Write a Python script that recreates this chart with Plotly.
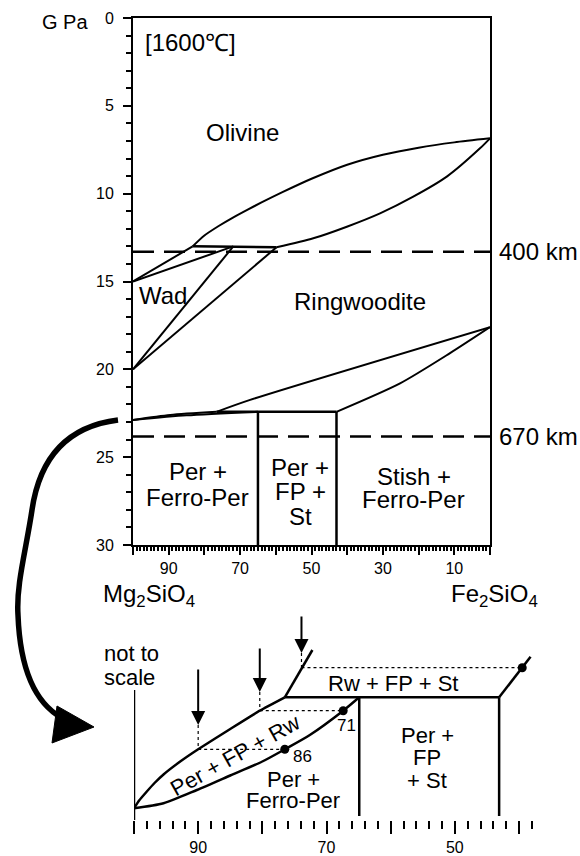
import plotly.graph_objects as go

FONT = "Liberation Sans, Arial, Helvetica, sans-serif"
W, H = 580, 856

# ---------------- main diagram (x: mol% Mg2SiO4, y: pressure in GPa) ----------------
ol_up_x = [83.3, 80, 76, 72, 68, 64, 58, 50, 40, 30, 20, 10, 0]
ol_up_y = [13.0, 12.38, 11.84, 11.36, 10.92, 10.5, 9.9, 9.15, 8.35, 7.78, 7.38, 7.08, 6.85]
ol_low_x = [59.8, 49.5, 40.1, 30.8, 21.5, 12.1, 2.8, 0]
ol_low_y = [13.05, 12.54, 11.88, 11.12, 10.17, 9.03, 7.42, 6.85]
triple_x = [83.3, 59.8]
triple_y = [13.0, 13.05]
wad_lines = [
    ([100, 83.3], [15.0, 13.0]),
    ([100, 71.9], [15.0, 13.0]),
    ([71.9, 100], [13.0, 20.0]),
    ([59.8, 100], [13.05, 20.0]),
]
lensA_x = [100, 89.6, 76.6]
lensA_y = [22.88, 22.6, 22.42]
lensB_x = [100, 85, 65]
lensB_y = [22.88, 22.62, 22.42]
boxtop_x = [76.6, 43]
boxtop_y = [22.42, 22.42]
rw_low_x = [76.6, 67.2, 0]
rw_low_y = [22.42, 21.74, 17.6]
st_x = [43, 25.2, 11.2, 0]
st_y = [22.42, 20.8, 19.08, 17.6]
verticals = [([65, 65], [22.42, 30]), ([43, 43], [22.42, 30])]
depth_p = [13.3, 23.83]
depth_labels = ["400 km", "670 km"]

x_major = [100, 90, 80, 70, 60, 50, 40, 30, 20, 10, 0]
x_major_text = ["", "90", "", "70", "", "50", "", "30", "", "10", ""]
x_minor = [v for v in range(0, 101) if v % 10]
y_major = [0, 5, 10, 15, 20, 25, 30]
y_minor = [v for v in range(0, 31) if v % 5]

main_labels = [
    ("Olivine", 69.2, 6.52),
    ("Wad", 91.7, 15.82),
    ("Ringwoodite", 36.4, 16.16),
    ("Per +", 81.8, 25.84), ("Ferro-Per", 81.8, 27.32),
    ("Per +", 53.2, 25.61), ("FP +", 53.2, 26.98), ("St", 53.2, 28.4),
    ("Stish +", 21.4, 26.12), ("Ferro-Per", 21.4, 27.43),
]

# ---------------- inset (not to scale; y = relative height) ----------------
in_left_x = [100, 100]
in_left_y = [0, 130]
in_low_x = [100, 95.4, 90.2, 85.0, 80.0, 76.5, 72.6, 67.4, 64.9]
in_low_y = [11.7, 16.7, 30, 44.5, 58.5, 70.7, 85, 109.3, 122.7]
in_up_x = [100, 99.2, 98, 96.8, 95.4, 92.8, 90, 85, 80.4, 76.5]
in_up_y = [11.7, 19.5, 28.5, 37, 45.5, 58.4, 70.7, 91, 109.3, 122.7]
in_solid = [
    ([76.5, 43.1], [122.7, 122.7]),
    ([76.5, 72.2], [122.7, 170]),
    ([43.1, 38.2], [122.7, 163.3]),
    ([64.9, 64.9], [4, 122.7]),
    ([43.1, 43.1], [4, 122.7]),
]
in_dotted = [
    ([90, 90], [95, 70.7]), ([90, 76.5], [70.7, 70.7]),
    ([80.4, 80.4], [128, 109.3]), ([80.4, 67.4], [109.3, 109.3]),
    ([73.9, 73.9], [167, 152.3]), ([73.9, 39.5], [152.3, 152.3]),
]
dots_x = [76.5, 67.4, 39.5]
dots_y = [70.7, 109.3, 152.3]
dot_labels = [("86", 73.8, 64), ("71", 66.9, 95)]
arrow_x = [90, 80.4, 73.9]
arrow_tip_y = [95, 128, 167]
arrow_len = [57, 45, 38]
in_x_major = [100, 90, 80, 70, 60, 50, 40]
in_x_major_text = ["", "90", "", "70", "", "50", ""]
in_x_minor = [v for v in range(38, 100, 2) if v % 10]
inset_labels = [
    ("Rw + FP + St", 59.6, 136.7),
    ("Per +", 54.3, 84.5), ("FP", 54.3, 63), ("+ St", 54.3, 40),
    ("Per +", 75.2, 41), ("Ferro-Per", 75.2, 19.5),
]

fig = go.Figure()


def add_line(x, y, xa="x", ya="y", width=2, dash=None, shape="linear", smoothing=0.7):
    fig.add_trace(go.Scatter(
        x=x, y=y, mode="lines", xaxis=xa, yaxis=ya, hoverinfo="skip", showlegend=False,
        line=dict(color="black", width=width, dash=dash, shape=shape, smoothing=smoothing)))


add_line(ol_up_x, ol_up_y, shape="spline")
add_line(ol_low_x, ol_low_y, shape="spline")
add_line(triple_x, triple_y, width=2.5)
for lx, ly in wad_lines:
    add_line(lx, ly)
add_line(lensA_x, lensA_y, shape="spline")
add_line(lensB_x, lensB_y, shape="spline")
add_line(boxtop_x, boxtop_y, width=2.5)
add_line(rw_low_x, rw_low_y, shape="spline")
add_line(st_x, st_y, shape="spline")
for lx, ly in verticals:
    add_line(lx, ly, width=2.5)
for p in depth_p:
    add_line([100, 0], [p, p], width=2.5, dash="21px,10px")

# inset
add_line(in_left_x, in_left_y, "x2", "y2", width=2.5)
add_line(in_low_x, in_low_y, "x2", "y2", width=2.5, shape="spline")
add_line(in_up_x, in_up_y, "x2", "y2", width=2.5, shape="spline", smoothing=0.5)
for lx, ly in in_solid:
    add_line(lx, ly, "x2", "y2", width=2.5)
for lx, ly in in_dotted:
    add_line(lx, ly, "x2", "y2", width=1.2, dash="dot")
fig.add_trace(go.Scatter(x=dots_x, y=dots_y, mode="markers", xaxis="x2", yaxis="y2",
                         marker=dict(color="black", size=9), hoverinfo="skip", showlegend=False))

ann = []
tf = dict(family=FONT, color="black")
C = dict(xanchor="center", yanchor="middle", showarrow=False)
for t, x, y in main_labels:
    ann.append(dict(text=t, x=x, y=y, xref="x", yref="y", font=dict(size=24, **tf), **C))
ann.append(dict(text="[1600\u2103]", x=97.2, y=1.42, xref="x", yref="y", xanchor="left",
                yanchor="middle", showarrow=False, font=dict(size=24, **tf)))
for p, t in zip(depth_p, depth_labels):
    ann.append(dict(text=t, x=497 / W, y=p, xref="paper", yref="y", xanchor="left",
                    yanchor="middle", showarrow=False, font=dict(size=24, **tf)))
ann.append(dict(text="G Pa", x=65 / W, y=1 - 22 / H, xref="paper", yref="paper",
                font=dict(size=20, **tf), **C))
ann.append(dict(text="Mg<sub>2</sub>SiO<sub>4</sub>", x=149 / W, y=1 - 595 / H, xref="paper",
                yref="paper", font=dict(size=24, **tf), **C))
ann.append(dict(text="Fe<sub>2</sub>SiO<sub>4</sub>", x=494 / W, y=1 - 595 / H, xref="paper",
                yref="paper", font=dict(size=24, **tf), **C))
for t, x, y in inset_labels:
    ann.append(dict(text=t, x=x, y=y, xref="x2", yref="y2", font=dict(size=22, **tf), **C))
for t, x, y in dot_labels:
    ann.append(dict(text=t, x=x, y=y, xref="x2", yref="y2", font=dict(size=17, **tf), **C))
ann.append(dict(text="Per + FP + Rw", x=84.3, y=65, xref="x2", yref="y2",
                textangle=-29, font=dict(size=22, **tf), **C))
for t, py in [("not to", 653), ("scale", 677)]:
    ann.append(dict(text=t, x=102 / W, y=1 - py / H, xref="paper", yref="paper",
                    xanchor="left", yanchor="middle", showarrow=False,
                    font=dict(size=22, **tf)))
for x, y, L in zip(arrow_x, arrow_tip_y, arrow_len):
    ann.append(dict(text="", x=x, y=y, xref="x2", yref="y2", ax=0, ay=-L,
                    showarrow=True, arrowhead=2, arrowsize=1.4, arrowwidth=2,
                    arrowcolor="black"))


def P(px, py):
    return f"{px / W:.5f},{1 - py / H:.5f}"


curve = [(118, 420), (70, 426), (40, 455), (32, 510), (26, 550), (16, 585), (18, 615),
         (20, 668), (35, 703), (62, 718)]
path = "M " + P(*curve[0])
for i in range(1, len(curve), 3):
    path += " C " + " ".join(P(*c) for c in curve[i:i + 3])
head = [(57, 706), (94, 727), (52, 743)]
head_path = "M " + " L ".join(P(*c) for c in head) + " Z"
shapes = [
    dict(type="path", path=path, xref="paper", yref="paper", line=dict(color="black", width=5.5)),
    dict(type="path", path=head_path, xref="paper", yref="paper", fillcolor="black",
         line=dict(color="black", width=1)),
]

axis_common = dict(showgrid=False, zeroline=False, color="black", automargin=False)
fig.update_layout(
    template="none",
    width=W, height=H, margin=dict(l=0, r=0, t=0, b=0, pad=0, autoexpand=False),
    paper_bgcolor="white", plot_bgcolor="white", showlegend=False,
    font=dict(family=FONT, color="black"),
    xaxis=dict(domain=[133 / W, 490 / W], range=[100, 0], showline=True, mirror=True,
               linewidth=2, linecolor="black", ticks="outside", ticklen=8, tickwidth=2,
               tickcolor="black", tickmode="array", tickvals=x_major, ticktext=x_major_text,
               tickfont=dict(size=16, family=FONT, color="black"), ticklabelstandoff=0,
               minor=dict(tickmode="array", tickvals=x_minor, ticks="outside", ticklen=4,
                          tickwidth=1.5, tickcolor="black"),
               anchor="y", **axis_common),
    yaxis=dict(domain=[1 - 545 / H, 1 - 18 / H], range=[30, 0], showline=True, mirror=True,
               linewidth=2, linecolor="black", ticks="outside", ticklen=8, tickwidth=2,
               tickcolor="black", tickmode="array", tickvals=y_major,
               ticktext=[str(v) for v in y_major],
               tickfont=dict(size=16, family=FONT, color="black"), ticklabelstandoff=6,
               minor=dict(tickmode="array", tickvals=y_minor, ticks="outside", ticklen=5,
                          tickwidth=1.5, tickcolor="black"),
               anchor="x", **axis_common),
    xaxis2=dict(domain=[134 / W, (134 + 64 * 6.417) / W], range=[100, 36], showline=False,
                ticks="outside", ticklen=13, tickwidth=2, tickcolor="black",
                tickmode="array", tickvals=in_x_major, ticktext=in_x_major_text,
                tickfont=dict(size=16, family=FONT, color="black"), ticklabelstandoff=0,
                minor=dict(tickmode="array", tickvals=in_x_minor, ticks="outside", ticklen=8,
                           tickwidth=2, tickcolor="black"),
                anchor="y2", **axis_common),
    yaxis2=dict(domain=[1 - 820 / H, 1 - 610 / H], range=[0, 210], visible=False,
                anchor="x2", automargin=False),
    annotations=ann, shapes=shapes,
)

fig.write_html("out.html", config={"displayModeBar": False})
